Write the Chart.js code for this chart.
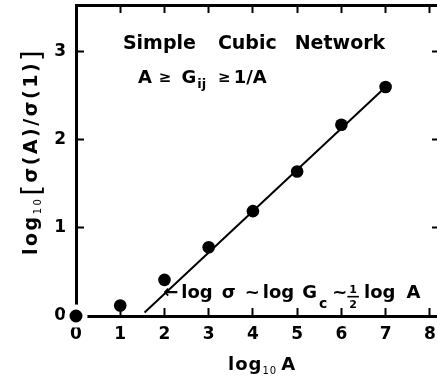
<!DOCTYPE html>
<html>
<head>
<meta charset="utf-8">
<script src="https://cdn.jsdelivr.net/npm/chart.js@4.4.1/dist/chart.umd.min.js"></script>
<style>
  html, body { margin: 0; padding: 0; background: #fff; overflow: hidden; }
</style>
</head>
<body>
<canvas id="chart" width="445" height="377"></canvas>
<script>
// Simple cubic network: log10 A vs log10[sigma(A)/sigma(1)]
const logA = [0, 1, 2, 3, 4, 5, 6, 7];
const logSigma = [0, 0.12, 0.41, 0.78, 1.19, 1.64, 2.17, 2.60];

// Asymptotic line, slope ~ 1/2
const fitX = [1.55, 7];
const fitY = [0.04, 2.6];

// Axis ticks
const xTicks = [0, 1, 2, 3, 4, 5, 6, 7, 8];
const yTicks = [0, 1, 2, 3];
const yRightTicks = [1, 2, 3];
const xRange = [0, 8.23];
const yRange = [0, 3.53];

const FONT = '"DejaVu Sans", sans-serif';
const B18 = 'bold 18px ' + FONT;

// Draw a row of text pieces (for subscripts / fractions)
function drawRuns(ctx, x, y, runs) {
    let cx = x;
    runs.forEach(r => {
        ctx.font = r.font;
        if (r.frac) {
            const w = ctx.measureText(r.frac[0]).width;
            ctx.textAlign = 'center';
            ctx.fillText(r.frac[0], cx + w / 2 + 1, y - 5);
            ctx.fillText(r.frac[1], cx + w / 2 + 1, y + 10);
            ctx.fillRect(cx - 1, y - 2.5, w + 4, 1.6);
            ctx.textAlign = 'left';
            cx += w + 4 + (r.gap || 0);
            return;
        }
        ctx.fillText(r.text, cx, y + (r.dy || 0));
        cx += ctx.measureText(r.text).width + (r.gap || 0);
    });
    return cx;
}

const labelsPlugin = {
    id: 'labels',
    afterDraw(chart) {
        const ctx = chart.ctx;
        const xs = chart.scales.x;
        const ys = chart.scales.y;
        ctx.save();
        ctx.fillStyle = '#000';
        ctx.textAlign = 'left';
        ctx.textBaseline = 'alphabetic';

        // heading
        drawRuns(ctx, xs.getPixelForValue(1.06), ys.getPixelForValue(3.03), [
            { text: 'Simple', font: 'bold 19px ' + FONT, gap: 22 },
            { text: 'Cubic', font: 'bold 19px ' + FONT, gap: 18 },
            { text: 'Network', font: 'bold 19px ' + FONT }
        ]);
        drawRuns(ctx, xs.getPixelForValue(1.40), ys.getPixelForValue(2.65), [
            { text: 'A', font: B18, gap: 7 },
            { text: '≥', font: 'bold 15px ' + FONT, dy: -1, gap: 10 },
            { text: 'G', font: B18, gap: 1 },
            { text: 'ij', font: 'bold 13px ' + FONT, dy: 5, gap: 12 },
            { text: '≥', font: 'bold 15px ' + FONT, dy: -1, gap: 3 },
            { text: '1/A', font: B18 }
        ]);

        // slope annotation
        drawRuns(ctx, xs.getPixelForValue(1.97), ys.getPixelForValue(0.2), [
            { text: '←', font: B18, gap: 3 },
            { text: 'log', font: B18, gap: 9 },
            { text: 'σ', font: B18, gap: 9 },
            { text: '~', font: B18, gap: 3 },
            { text: 'log', font: B18, gap: 8 },
            { text: 'G', font: B18, gap: 2 },
            { text: 'c', font: 'bold 14px ' + FONT, dy: 10, gap: 5 },
            { text: '~', font: B18, gap: 1 },
            { frac: ['1', '2'], font: 'bold 11px ' + FONT, gap: 4 },
            { text: 'log', font: B18, gap: 11 },
            { text: 'A', font: B18 }
        ]);

        // x axis title
        ctx.letterSpacing = '1px';
        drawRuns(ctx, 228, 370, [
            { text: 'log', font: 'bold 18px ' + FONT },
            { text: '10', font: '10px ' + FONT, dy: 4, gap: 4 },
            { text: 'A', font: 'bold 18px ' + FONT }
        ]);

        // y axis title
        ctx.letterSpacing = '2.5px';
        ctx.translate(37, 255);
        ctx.rotate(-Math.PI / 2);
        drawRuns(ctx, 0, 0, [
            { text: 'log', font: 'bold 19px ' + FONT },
            { text: '10', font: '10px ' + FONT, dy: 4, gap: 1 },
            { text: '[', font: '27px ' + FONT, dy: 3 },
            { text: 'σ(A)/σ(1)', font: 'bold 19px ' + FONT },
            { text: ']', font: '27px ' + FONT, dy: 3 }
        ]);
        ctx.restore();
    }
};

const axisGrid = {
    drawOnChartArea: false,
    drawTicks: true,
    tickLength: -8,
    tickWidth: 2,
    color: '#000'
};
const axisBorder = { display: true, color: '#000', width: 3 };

function setTicks(values) {
    return scale => { scale.ticks = values.map(v => ({ value: v })); };
}

// fixed box sizes so the plot frame sits where it should
function fixSize(prop, size) {
    return scale => {
        scale[prop] = size;
        scale.paddingLeft = scale.paddingRight = 0;
        scale.paddingTop = scale.paddingBottom = 0;
    };
}

new Chart(document.getElementById('chart'), {
    type: 'scatter',
    data: {
        datasets: [
            {
                data: logA.map((x, i) => ({ x: x, y: logSigma[i] })),
                backgroundColor: '#000',
                pointRadius: ctx => ctx.dataIndex === 0 ? 9 : 6.3,
                pointBorderWidth: ctx => ctx.dataIndex === 0 ? 5 : 0,
                pointBorderColor: ctx => ctx.dataIndex === 0 ? '#fff' : '#000',
                clip: false,
                order: 1
            },
            {
                type: 'line',
                data: fitX.map((x, i) => ({ x: x, y: fitY[i] })),
                borderColor: '#000',
                borderWidth: 2,
                pointRadius: 0,
                order: 2
            }
        ]
    },
    options: {
        responsive: false,
        animation: false,
        events: [],
        layout: { padding: 0, autoPadding: false },
        plugins: { legend: { display: false }, tooltip: { enabled: false } },
        scales: {
            x: {
                type: 'linear', position: 'bottom',
                min: xRange[0], max: xRange[1],
                afterBuildTicks: setTicks(xTicks),
                afterFit: fixSize('height', 61),
                grid: axisGrid, border: axisBorder,
                ticks: { color: '#000', padding: 16, font: { family: FONT, size: 17, weight: 'bold' } }
            },
            x2: {
                type: 'linear', position: 'top',
                min: xRange[0], max: xRange[1],
                afterBuildTicks: setTicks(xTicks),
                afterFit: fixSize('height', 5),
                grid: axisGrid, border: axisBorder,
                ticks: { display: false }
            },
            y: {
                type: 'linear', position: 'left',
                min: yRange[0], max: yRange[1],
                afterBuildTicks: setTicks(yTicks),
                afterFit: fixSize('width', 76),
                grid: axisGrid, border: axisBorder,
                ticks: { color: '#000', padding: 18, font: { family: FONT, size: 17, weight: 'bold' } }
            },
            y2: {
                type: 'linear', position: 'right',
                min: yRange[0], max: yRange[1],
                afterBuildTicks: setTicks(yRightTicks),
                afterFit: fixSize('width', 5),
                grid: axisGrid, border: axisBorder,
                ticks: { display: false }
            }
        }
    },
    plugins: [labelsPlugin]
});
</script>
</body>
</html>
